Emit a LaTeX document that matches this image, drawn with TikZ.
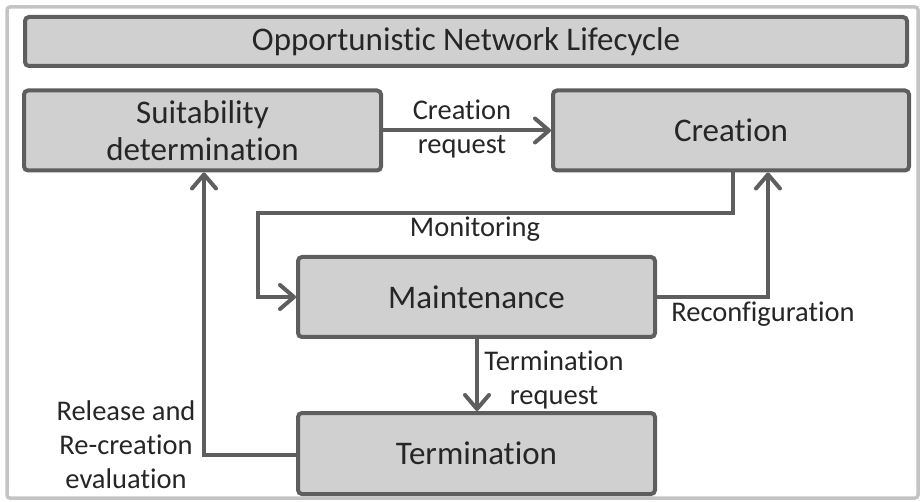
\documentclass[tikz,border=0pt]{standalone}
\usepackage{fontspec}
\setmainfont{Carlito}[Ligatures=CommonOff]
\usetikzlibrary{arrows.meta,calc}
\definecolor{edge}{HTML}{5E5E5E}
\definecolor{boxfill}{HTML}{D0D0D0}
\definecolor{frame}{HTML}{C4C4C4}
\definecolor{ink}{HTML}{262626}
\tikzset{
  stagebox/.style={draw=edge, fill=boxfill, line width=4pt, rounded corners=4pt,
    inner sep=0pt, align=center, text=ink, font=\fontsize{33}{37}\selectfont},
  flow/.style={draw=edge, line width=4pt,
    -{Straight Barb[length=14pt,width=24pt,line width=4pt,round]}},
  lbl/.style={text=ink, align=center, inner sep=0pt, font=\fontsize{28.5}{34}\selectfont}
}
\begin{document}
\begin{tikzpicture}[x=1pt,y=-1pt]
\useasboundingbox (0,0) rectangle (923,502);
\draw[frame, line width=3.5pt, rounded corners=3pt] (7,7) rectangle (918,498);
\node[stagebox, minimum width=882pt, minimum height=49pt] (title) at (466,41.5) {Opportunistic Network Lifecycle};
\node[stagebox, minimum width=357pt, minimum height=80pt] (suit) at (202.5,130.5) {Suitability\\determination};
\node[stagebox, minimum width=356pt, minimum height=80pt] (creat) at (731,130.5) {Creation};
\node[stagebox, minimum width=357pt, minimum height=80pt] (maint) at (476.5,297) {Maintenance};
\node[stagebox, minimum width=357pt, minimum height=81pt] (term) at (476.5,453.5) {Termination};
% creation request
\draw[flow] (suit.east) -- (creat.west);
\node[lbl] (lcr) at (462,129) {Creation\\request};
% monitoring
\coordinate (m1) at (733,213);
\coordinate (m2) at (258,213);
\coordinate (m3) at (258,297);
\draw[flow] (creat.south -| m1) -- (m1) -- (m2) -- (m3) -- (maint.west);
\node[lbl] (lmon) at (475,229) {Monitoring};
% reconfiguration
\coordinate (r1) at (768,297);
\draw[flow] (maint.east) -- (r1) -- (creat.south -| r1);
\node[lbl] (lrec) at (763,314) {Reconfiguration};
% termination request
\coordinate (t1) at (477,297);
\draw[flow] (maint.south -| t1) -- (term.north -| t1);
\node[lbl] (lter) at (554,380) {Termination\\request};
% release
\coordinate (e1) at (204,455);
\draw[flow] (term.west |- e1) -- (e1) -- (suit.south -| e1);
\node[lbl] (lrel) at (126,445) {Release and\\Re-creation\\evaluation};
\end{tikzpicture}
\end{document}
